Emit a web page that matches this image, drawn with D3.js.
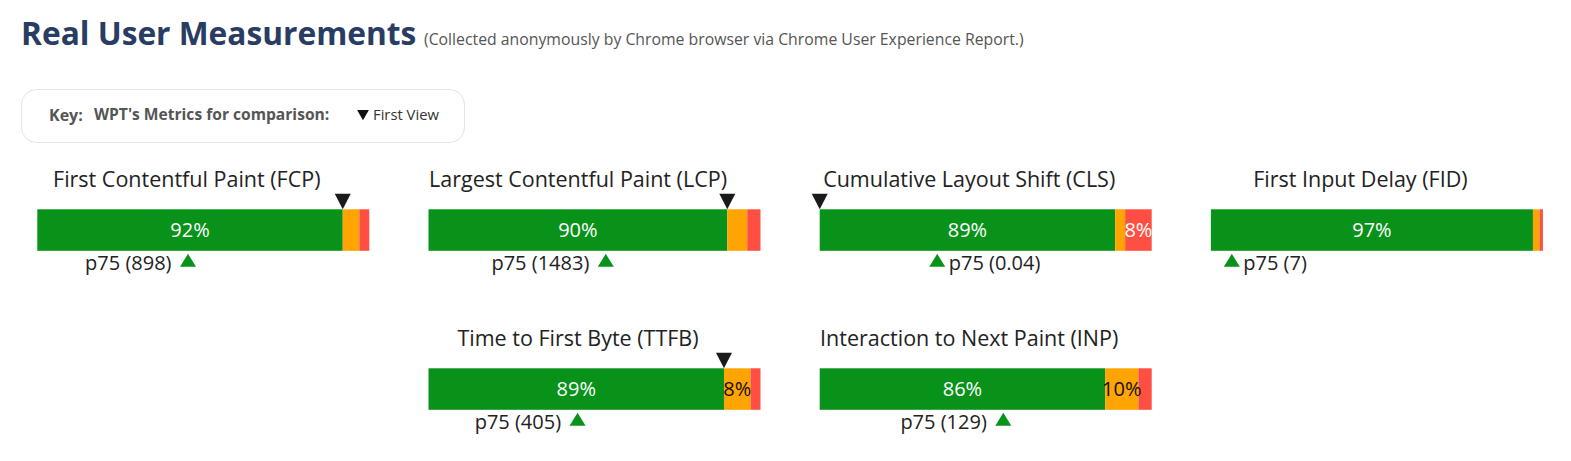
<!DOCTYPE html>
<html>
<head>
<meta charset="utf-8">
<script src="https://cdn.jsdelivr.net/npm/d3@7"></script>
<style>
  html, body { margin: 0; padding: 0; background: #fff; }
  svg { display: block; font-family: "Open Sans", "Noto Sans", sans-serif; }
</style>
</head>
<body>
<svg id="chart" width="1571" height="461"></svg>
<script>
// ---- data ----
const metrics = [
  "First Contentful Paint (FCP)",
  "Largest Contentful Paint (LCP)",
  "Cumulative Layout Shift (CLS)",
  "First Input Delay (FID)",
  "Time to First Byte (TTFB)",
  "Interaction to Next Paint (INP)"
];
const goodPct = [92, 90, 89, 97, 89, 86];
const needsImprovementPct = [5, 6, 3, 2, 8, 10];
const poorPct = [3, 4, 8, 1, 3, 4];
const p75Labels = ["898", "1483", "0.04", "7", "405", "129"];
const p75Position = [45.4, 53.4, 35.4, 6.3, 44.9, 55.3];      // position along the bar, 0-100
const wptFirstView = [92, 90, 0, null, 89, null];              // WPT first-view marker, 0-100
const gridCol = [0, 1, 2, 3, 1, 2];
const gridRow = [0, 0, 0, 0, 1, 1];

const titleText = "Real User Measurements";
const subtitleText = "(Collected anonymously by Chrome browser via Chrome User Experience Report.)";
const keyLabel = "Key:";
const keyTitle = "WPT's Metrics for comparison:";
const keyItem = "First View";

// ---- layout ----
const colors = { good: "#08921a", ni: "#ffa400", poor: "#ff4e42" };
const barW = 332, barH = 41.5;
const colX = d3.scaleLinear().domain([0, 1]).range([37.3, 428.5]);
const rowY = d3.scaleLinear().domain([0, 1]).range([209.3, 368.3]);
const x = d3.scaleLinear().domain([0, 100]).range([0, barW]);

const svg = d3.select("#chart");

// Title
svg.append("text").attr("x", 21).attr("y", 45).text(titleText)
  .attr("font-size", 31.7).attr("font-weight", 700).attr("fill", "#293c63");
svg.append("text").attr("x", 424).attr("y", 45).text(subtitleText)
  .attr("font-size", 15.8).attr("fill", "#555");

// Key box
const key = svg.append("g");
key.append("rect").attr("x", 21.5).attr("y", 89.5).attr("width", 443).attr("height", 53)
  .attr("rx", 15).attr("fill", "#fff").attr("stroke", "#e3e3e3");
key.append("text").attr("x", 49).attr("y", 120.5).text(keyLabel)
  .attr("font-size", 16).attr("font-weight", 700).attr("fill", "#555");
key.append("text").attr("x", 94).attr("y", 120).text(keyTitle)
  .attr("font-size", 15.6).attr("font-weight", 700).attr("fill", "#555");
key.append("path")
  .attr("d", d3.symbol(d3.symbolTriangle, 60)())
  .attr("transform", "translate(363,113.5) rotate(180)")
  .attr("fill", "#111");
key.append("text").attr("x", 373).attr("y", 119.5).text(keyItem)
  .attr("font-size", 14.8).attr("fill", "#333");

// Charts
metrics.forEach((name, i) => {
  const g = svg.append("g")
    .attr("transform", `translate(${colX(gridCol[i])},${rowY(gridRow[i])})`);

  g.append("text")
    .attr("x", x(50) - 16.5).attr("y", -22.5)
    .attr("text-anchor", "middle")
    .attr("font-size", 21.5).attr("fill", "#222")
    .text(name);

  const segs = [
    { v: goodPct[i], c: colors.good, tc: "#fff" },
    { v: needsImprovementPct[i], c: colors.ni, tc: "#111" },
    { v: poorPct[i], c: colors.poor, tc: "#fff" }
  ];
  let acc = 0;
  segs.forEach(s => { s.start = acc; acc += s.v; });

  g.selectAll("rect.seg").data(segs).enter().append("rect")
    .attr("class", "seg")
    .attr("x", d => x(d.start)).attr("y", 0)
    .attr("width", d => x(d.start + d.v) - x(d.start)).attr("height", barH)
    .attr("fill", d => d.c);

  g.selectAll("text.seg").data(segs.filter(s => s.v >= 8)).enter().append("text")
    .attr("class", "seg")
    .attr("x", d => x(d.start + d.v / 2)).attr("y", barH / 2 + 7)
    .attr("text-anchor", "middle")
    .attr("font-size", 20).attr("fill", d => d.tc)
    .text(d => d.v + "%");

  // WPT first view marker
  if (wptFirstView[i] !== null) {
    const wx = x(wptFirstView[i]);
    g.append("path")
      .attr("d", `M${wx - 8},-15.5 L${wx + 8},-15.5 L${wx},0 Z`)
      .attr("fill", "#1a1a1a");
  }

  // p75 marker
  const px = x(p75Position[i]);
  g.append("path")
    .attr("d", `M${px - 8},${barH + 16} L${px + 8},${barH + 16} L${px},${barH + 3} Z`)
    .attr("fill", colors.good);
  const leftSide = p75Position[i] > 40;
  g.append("text")
    .attr("x", leftSide ? px - 16.5 : px + 11.5)
    .attr("y", barH + 19)
    .attr("text-anchor", leftSide ? "end" : "start")
    .attr("font-size", 20).attr("fill", "#222")
    .text(`p75 (${p75Labels[i]})`);
});
</script>
</body>
</html>
